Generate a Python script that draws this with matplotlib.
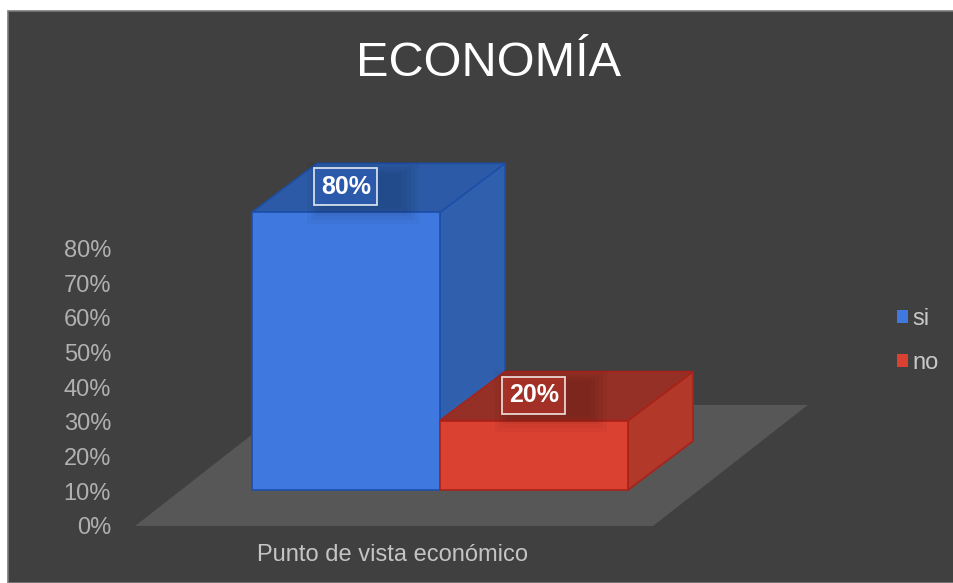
import matplotlib
matplotlib.use("Agg")
import matplotlib.pyplot as plt
from matplotlib.patches import Polygon, Rectangle, Patch

plt.rcParams['font.family'] = ['Liberation Sans', 'DejaVu Sans']

series = ["si", "no"]
values = [80, 20]
yticks = [0, 10, 20, 30, 40, 50, 60, 70, 80]
xlabel = "Punto de vista económico"
title = "ECONOMÍA"

front_colors = ["#3f78de", "#db4130"]
top_colors = ["#2c5aa6", "#953026"]
side_colors = ["#3060ad", "#b2392a"]
edge_colors = ["#1c4fa8", "#a8221a"]
label_fills = ["#2f5fb4", "#ad3329"]

bg = "#404040"
W, H = 954, 583
fig = plt.figure(figsize=(W / 100, H / 100), dpi=100, facecolor="white")

# dark panel, leaves a thin white strip on top and left
fig.patches.append(Rectangle((8 / W, 0), 1, 1 - 11 / H, transform=fig.transFigure,
                             facecolor=bg, edgecolor="#7a7a7a", linewidth=1.2, zorder=-1))

# one axes, x in bar widths (188 px), y in percent (3.47 px)
left, right, bottom, top = 118, 810, 526, 150
ax = fig.add_axes([left / W, (H - bottom) / H, (right - left) / W, (bottom - top) / H])
ax.set_xlim((left - 346) / 188, (right - 346) / 188)
ax.set_ylim(0, (bottom - top) / 3.47)
ax.patch.set_alpha(0)
for s in ax.spines.values():
    s.set_visible(False)

base = 10.4      # floor of the bars above the 0% line
dx, dy = 0.346, 14.1   # 3d depth of a bar

# floor
ax.add_patch(Polygon([(-1.122, 0), (1.633, 0), (2.457, 34.9), (-0.298, 34.9)],
                     facecolor="#575757", edgecolor="none", zorder=1))

for i, v in enumerate(values):
    x0, x1 = i - 0.5, i + 0.5
    y0, y1 = base, base + v
    ec = edge_colors[i]
    ax.add_patch(Polygon([(x1, y0), (x1 + dx, y0 + dy), (x1 + dx, y1 + dy), (x1, y1)],
                         facecolor=side_colors[i], edgecolor=ec, linewidth=1.2, zorder=2 + i))
    ax.add_patch(Polygon([(x0, y1), (x1, y1), (x1 + dx, y1 + dy), (x0 + dx, y1 + dy)],
                         facecolor=top_colors[i], edgecolor=ec, linewidth=1.2, zorder=2 + i))
    ax.add_patch(Rectangle((x0, y0), 1, v, facecolor=front_colors[i], edgecolor=ec,
                           linewidth=1.2, zorder=2 + i))

    # soft shadow under the value label
    lx, ly = i, y1 + dy / 2 + 0.3
    for k in range(5):
        grow = k * 0.022
        ax.add_patch(Rectangle((lx - 0.17 - grow + 0.05, ly - 6 - 1.2 * k), 0.42 + 2 * grow, 10 + 2 * k,
                               facecolor="black", edgecolor="none", alpha=0.03, zorder=4))
    ax.text(lx, ly, "%d%%" % v, ha="center", va="center", color="white", fontsize=18,
            fontweight="bold", zorder=6,
            bbox=dict(boxstyle="square,pad=0.26", facecolor=label_fills[i],
                      edgecolor="#ffffff", alpha=0.8, linewidth=1.3))

ax.set_yticks(yticks, ["%d%%" % t for t in yticks])
ax.set_xticks([0.245], [xlabel])
ax.tick_params(axis="y", length=0, pad=5, labelsize=17, labelcolor="#b0b0b0")
ax.tick_params(axis="x", length=0, pad=13, labelsize=17, labelcolor="#c4c4c4")

handles = [Patch(facecolor=front_colors[i], edgecolor="none", label=series[i]) for i in range(2)]
leg = fig.legend(handles=handles, loc="center left", bbox_to_anchor=(876 / W, (H - 341) / H),
                 frameon=False, fontsize=17, labelcolor="#c8c8c8",
                 handlelength=0.45, handleheight=0.45, handletextpad=0.2, labelspacing=0.95)

fig.text(489 / W, (H - 63) / H, title, ha="center", va="center", color="white", fontsize=35)

fig.savefig("out.png", dpi=100, facecolor=fig.get_facecolor())
